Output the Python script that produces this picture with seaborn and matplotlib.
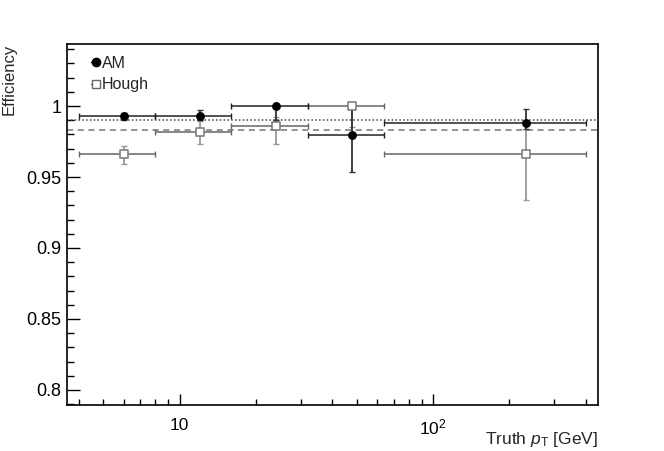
import numpy as np
import pandas as pd
import matplotlib
matplotlib.use("Agg")
import matplotlib.pyplot as plt
from matplotlib.lines import Line2D
from matplotlib.ticker import FixedLocator, NullFormatter, MultipleLocator
import seaborn as sns

# ---- data ----
bin_edges = [4, 8, 16, 32, 64, 400]
bin_centers = [6, 12, 24, 48, 232]

am_eff = [0.993, 0.993, 1.000, 0.9796, 0.9883]
am_err_lo = [0.003, 0.003, 0.010, 0.026, 0.0045]
am_err_hi = [0.002, 0.004, 0.000, 0.020, 0.0095]

hough_eff = [0.966, 0.9815, 0.986, 1.000, 0.966]
hough_err_lo = [0.007, 0.0085, 0.013, 0.0145, 0.032]
hough_err_hi = [0.006, 0.008, 0.006, 0.000, 0.022]

am_mean = 0.9904
hough_mean = 0.9834

x_tick_vals = [10, 100]
x_tick_labels = ["10", r"$10^{2}$"]
y_tick_vals = [0.8, 0.85, 0.9, 0.95, 1.0]
y_tick_labels = ["0.8", "0.85", "0.9", "0.95", "1"]

# ---- style ----
sns.set_style("white")
plt.rcParams["font.family"] = ["Liberation Sans", "DejaVu Sans"]
plt.rcParams["mathtext.fontset"] = "custom"
plt.rcParams["mathtext.rm"] = "Liberation Sans"
plt.rcParams["mathtext.it"] = "Liberation Sans:italic"

fig = plt.figure(figsize=(6.64, 4.51), dpi=100)
ax = fig.add_axes([67/664, 1-405/451, (598-67)/664, (405-44)/451])

edges = np.array(bin_edges, dtype=float)
centers = np.array(bin_centers, dtype=float)
xlo = centers - edges[:-1]
xhi = edges[1:] - centers

df = pd.DataFrame({
    "pt": list(centers) * 2,
    "eff": am_eff + hough_eff,
    "algo": ["AM"] * 5 + ["Hough"] * 5,
})

# horizontal lines (averages)
ax.axhline(am_mean, color="#444444", lw=1.1, ls=(0, (1, 1.5)), zorder=1)
ax.axhline(hough_mean, color="#777777", lw=1.1, ls=(0, (4, 3)), zorder=1)

# Hough error bars
ax.errorbar(centers, hough_eff, xerr=[xlo, xhi], fmt="none",
            ecolor="#666666", elinewidth=1.1, capsize=2, capthick=1.0, zorder=2)
ax.errorbar(centers, hough_eff, yerr=[hough_err_lo, hough_err_hi], fmt="none",
            ecolor="#999999", elinewidth=1.3, capsize=2, capthick=1.0, zorder=2)
# AM error bars
ax.errorbar(centers, am_eff, xerr=[xlo, xhi], fmt="none",
            ecolor="#222222", elinewidth=1.1, capsize=2, capthick=1.0, zorder=3)
ax.errorbar(centers, am_eff, yerr=[am_err_lo, am_err_hi], fmt="none",
            ecolor="#333333", elinewidth=1.3, capsize=2, capthick=1.0, zorder=3)

sns.scatterplot(data=df[df.algo == "Hough"], x="pt", y="eff", marker="s", s=38,
                facecolor="white", edgecolor="#777777", linewidth=1.1, ax=ax,
                zorder=4, legend=False)
sns.scatterplot(data=df[df.algo == "AM"], x="pt", y="eff", marker="o", s=34,
                color="black", edgecolor="black", linewidth=0.5, ax=ax,
                zorder=5, legend=False)

ax.set_xscale("log")
ax.set_xlim(3.59, 447)
ax.set_ylim(0.7894, 1.0437)

ax.xaxis.set_major_locator(FixedLocator(x_tick_vals))
ax.set_xticklabels(x_tick_labels)
ax.xaxis.set_minor_locator(FixedLocator([4, 5, 6, 7, 8, 9, 20, 30, 40, 50, 60, 70, 80, 90, 200, 300, 400]))
ax.xaxis.set_minor_formatter(NullFormatter())
ax.yaxis.set_major_locator(FixedLocator(y_tick_vals))
ax.set_yticklabels(y_tick_labels)
ax.yaxis.set_minor_locator(MultipleLocator(0.01))

ax.tick_params(axis="both", which="both", direction="in", colors="black",
               left=True, bottom=True, right=False, top=False)
ax.tick_params(axis="y", which="major", length=9, width=1, labelsize=13, pad=4)
ax.tick_params(axis="y", which="minor", length=5, width=1)
ax.tick_params(axis="x", which="major", length=8, width=1, labelsize=12.5, pad=9)
ax.tick_params(axis="x", which="minor", length=4, width=1)

for sp in ax.spines.values():
    sp.set_color("black")
    sp.set_linewidth(1.2)

ax.set_xlabel(r"Truth $p_{\mathrm{T}}$ [GeV]", fontsize=12.5, ha="right")
ax.xaxis.set_label_coords(1.0, -0.07)
ax.set_ylabel("Efficiency", fontsize=12, ha="right")
ax.yaxis.set_label_coords(-0.094, 1.0)

handles = [
    Line2D([], [], color="black", marker="o", markersize=6, lw=1.0),
    Line2D([], [], color="#666666", marker="s", markersize=6,
           markerfacecolor="white", markeredgecolor="#666666", lw=1.0),
]
leg = ax.legend(handles, ["AM", "Hough"], loc="upper left",
                bbox_to_anchor=(0.033, 0.985), frameon=False, fontsize=11.5,
                handlelength=0.6, handletextpad=0.1, labelspacing=0.4,
                borderaxespad=0.0)

fig.savefig("out.png", dpi=100)
